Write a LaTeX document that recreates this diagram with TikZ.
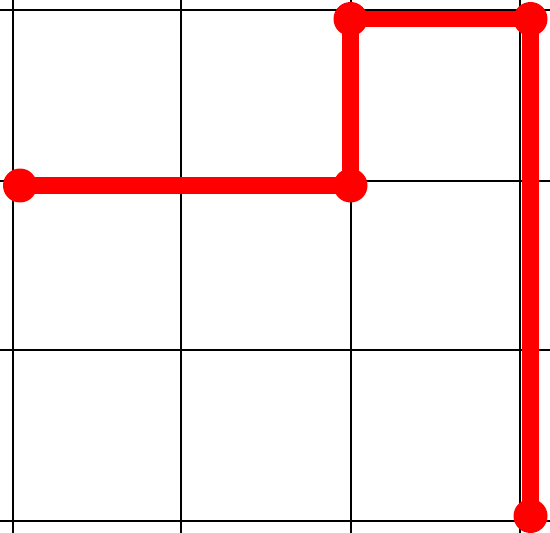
\documentclass[tikz,border=0pt]{standalone}
\usepackage{tikz}
\usetikzlibrary{positioning}

\tikzset{
  gridline/.style={black,line width=1.1pt},
  walk/.style={red,line width=9.6pt,line join=miter},
  dot/.style={circle,fill=red,inner sep=0pt,minimum size=0.68cm}
}

\begin{document}
\begin{tikzpicture}[x=0.02cm,y=-0.02cm]
    \useasboundingbox (0,0) rectangle (550,533);
    % grid
    \foreach \gx in {13,181,351,520}
      \draw[gridline] (\gx,0) -- (\gx,533);
    \foreach \gy in {10,181,350,521}
      \draw[gridline] (0,\gy) -- (550,\gy);
    % points
    \node (p1) at (20,185.5) [dot]{};
    \node (p2) at (350.5,185.5) [dot]{};
    \node (p3) at (350.5,19) [dot]{};
    \node (p4) at (530.5,19) [dot]{};
    \node (p5) at (530.5,516) [dot]{};
    % path
    \draw[walk] (p1.center) -- (p2.center) -- (p3.center) -- (p4.center) -- (p5.center);
\end{tikzpicture}
\end{document}
